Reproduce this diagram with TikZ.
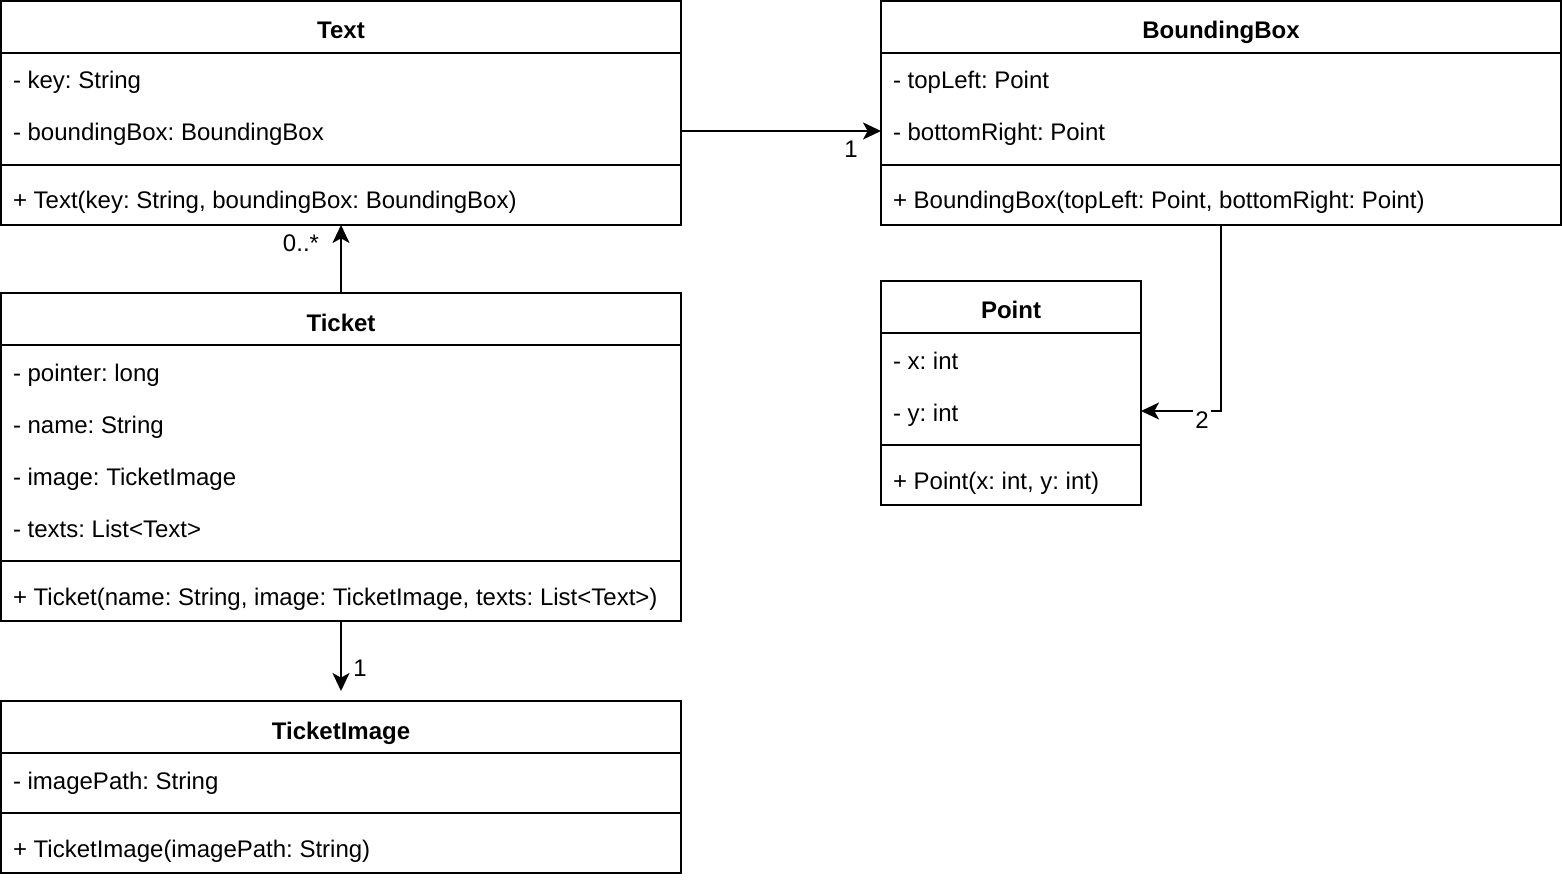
\documentclass[tikz,border=0pt]{standalone}
\usepackage{fontspec}
\setmainfont{Liberation Sans}
\frenchspacing
\usetikzlibrary{arrows.meta}

\tikzset{every picture/.style={line width=1.5pt}}
\tikzset{
  cls/.style={draw, anchor=north west, inner sep=0pt, outer sep=0pt},
  classname/.style={anchor=base, inner sep=0pt, font=\fontsize{18pt}{21.6pt}\selectfont\bfseries},
  member/.style={anchor=base west, inner sep=0pt, font=\fontsize{18pt}{21.6pt}\selectfont},
  mult/.style={anchor=base, inner sep=0pt, font=\fontsize{18pt}{21.6pt}\selectfont},
  assoc/.style={-{Stealth[length=13.5pt,width=12.75pt,inset=3.5pt]}},
}

\begin{document}
\begin{tikzpicture}[x=0.75pt,y=0.75pt,yscale=-1,xscale=1]
\useasboundingbox (0,0) rectangle (1562,880);

%Shape: Class Text
\node[cls, minimum width=510pt, minimum height=168pt] (text) at (1,1) {};
\draw (1,53) -- (681,53) (1,165) -- (681,165) ;
\node[classname] (text-name) at (341,39) {Text};
\node[member] (text-key) at (12,89) {- key: String};
\node[member] (text-box) at (12,141) {- boundingBox: BoundingBox};
\node[member] (text-new) at (12,209) {+ Text(key: String, boundingBox: BoundingBox)};

%Shape: Class BoundingBox
\node[cls, minimum width=510pt, minimum height=168pt] (bbox) at (881,1) {};
\draw (881,53) -- (1561,53) (881,165) -- (1561,165) ;
\node[classname] (bbox-name) at (1221,39) {BoundingBox};
\node[member] (bbox-tl) at (892,89) {- topLeft: Point};
\node[member] (bbox-br) at (892,141) {- bottomRight: Point};
\node[member] (bbox-new) at (892,209) {+ BoundingBox(topLeft: Point, bottomRight: Point)};

%Shape: Class Point
\node[cls, minimum width=195pt, minimum height=168pt] (point) at (881,281) {};
\draw (881,333) -- (1141,333) (881,445) -- (1141,445) ;
\node[classname] (point-name) at (1011,319) {Point};
\node[member] (point-x) at (892,369) {- x: int};
\node[member] (point-y) at (892,421) {- y: int};
\node[member] (point-new) at (892,489) {+ Point(x: int, y: int)};

%Shape: Class Ticket
\node[cls, minimum width=510pt, minimum height=246pt] (ticket) at (1,293) {};
\draw (1,345) -- (681,345) (1,561) -- (681,561) ;
\node[classname] (ticket-name) at (341,331) {Ticket};
\node[member] (ticket-ptr) at (12,381) {- pointer: long};
\node[member] (ticket-name) at (12,433) {- name: String};
\node[member] (ticket-img) at (12,485) {- image: TicketImage};
\node[member] (ticket-texts) at (12,537) {- texts: List<Text>};
\node[member] (ticket-new) at (12,605) {+ Ticket(name: String, image: TicketImage, texts: List<Text>)};

%Shape: Class TicketImage
\node[cls, minimum width=510pt, minimum height=129pt] (timage) at (1,701) {};
\draw (1,753) -- (681,753) (1,813) -- (681,813) ;
\node[classname] (timage-name) at (341,739) {TicketImage};
\node[member] (timage-path) at (12,789) {- imagePath: String};
\node[member] (timage-new) at (12,857) {+ TicketImage(imagePath: String)};

%Straight Lines
\draw[assoc] (text.east |- 0,131) -- (bbox.west |- 0,131) ;
\draw[assoc] (ticket.north) -- (text.south) ;
\draw[assoc, shorten >=7.5pt] (ticket.south) -- (timage.north) ;
\draw[assoc] (bbox.south) |- (point.east |- 0,411) ;

% Text Node
\node[mult] (m-box) at (851,158) {1};
% Text Node
\node[mult] (m-text) at (301,252) {0..*};
% Text Node
\node[mult, fill=white, inner xsep=1.5pt, inner ysep=3pt] (m-point) at (1202,428) {2};
% Text Node
\node[mult] (m-image) at (360,676) {1};

\end{tikzpicture}
\end{document}
